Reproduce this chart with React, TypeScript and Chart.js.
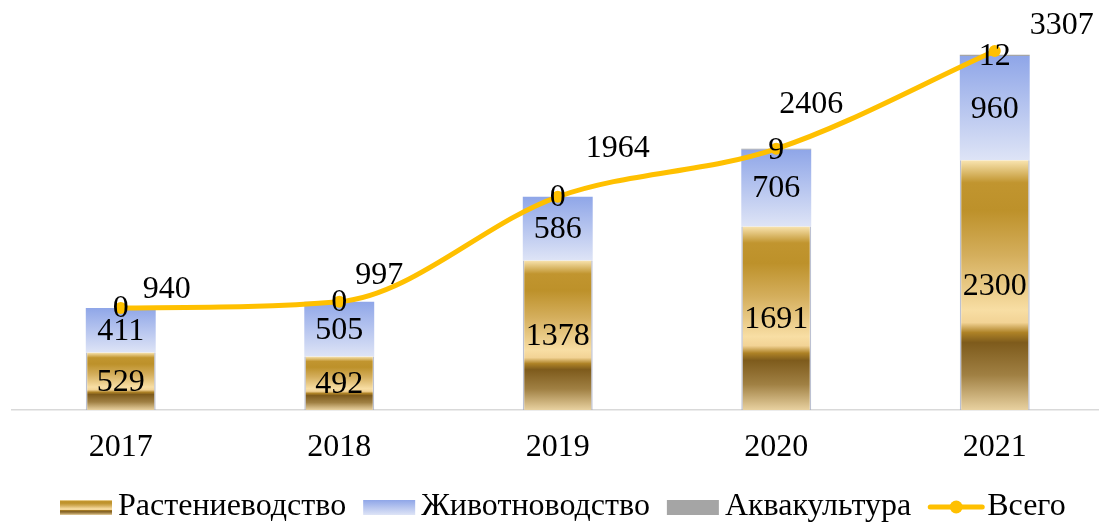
import React, { useEffect, useRef } from 'react';
import { Chart, registerables } from 'chart.js';

Chart.register(...registerables);

// ---- data ----
const categories = ['2017', '2018', '2019', '2020', '2021'];
const cropValues = [529, 492, 1378, 1691, 2300];
const livestockValues = [411, 505, 586, 706, 960];
const aquaValues = [0, 0, 0, 9, 12];
const totalValues = [940, 997, 1964, 2406, 3307];
const seriesNames = ['Растениеводство', 'Животноводство', 'Аквакультура', 'Всего'];

// ---- style ----
const FONT = '"Liberation Serif", "Times New Roman", serif';
const FONT_SIZE = 32;
const LINE_COLOR = '#FFC000';
const AQUA_COLOR = '#A5A5A5';
const lineLabelOffsets: [number, number][] = [
  [46, -18],
  [40, -26],
  [60, -48],
  [35, -44],
  [67, -25],
];

type Stop = [number, string];
const goldStops: Stop[] = [
  [0, '#F9E4B0'],
  [0.09, '#C1952F'],
  [0.2, '#BD912A'],
  [0.38, '#D4AE5C'],
  [0.6, '#F8DEA4'],
  [0.65, '#F2D395'],
  [0.69, '#AE8226'],
  [0.73, '#7E5B1C'],
  [0.86, '#A08043'],
  [1, '#E8D1A0'],
];
const blueStops: Stop[] = [
  [0, '#8FA6E8'],
  [1, '#DEE4F6'],
];

function makeGrad(c: CanvasRenderingContext2D, top: number, bottom: number, stops: Stop[]) {
  const g = c.createLinearGradient(0, top, 0, bottom);
  stops.forEach(([o, col]) => g.addColorStop(o, col));
  return g;
}

const stackArrays = [cropValues, livestockValues, aquaValues];

const stackedGradient = (dsIndex: number, stops: Stop[], fallback: string) => (ctx: any) => {
  const chart = ctx.chart;
  const ys = chart.scales && chart.scales.y;
  const i = ctx.dataIndex;
  if (!ys || i == null || !chart.chartArea) return fallback;
  let start = 0;
  for (let k = 0; k < dsIndex; k++) start += stackArrays[k][i];
  const end = start + stackArrays[dsIndex][i];
  const top = ys.getPixelForValue(end);
  const bottom = ys.getPixelForValue(start);
  if (!isFinite(top) || !isFinite(bottom) || top === bottom) return fallback;
  return makeGrad(chart.ctx, top, bottom, stops);
};

const labelPlugin = {
  id: 'valueLabels',
  afterDatasetsDraw(chart: any) {
    const c: CanvasRenderingContext2D = chart.ctx;
    c.save();
    c.font = `${FONT_SIZE}px ${FONT}`;
    c.fillStyle = '#000';
    c.textAlign = 'center';
    c.textBaseline = 'middle';
    for (let d = 0; d < 3; d++) {
      const meta = chart.getDatasetMeta(d);
      meta.data.forEach((el: any, i: number) => {
        const p = el.getProps(['x', 'y', 'base'], true);
        c.fillText(String(stackArrays[d][i]), p.x, (p.y + p.base) / 2 + 1);
      });
    }
    const lm = chart.getDatasetMeta(3);
    lm.data.forEach((el: any, i: number) => {
      const p = el.getProps(['x', 'y'], true);
      const [dx, dy] = lineLabelOffsets[i];
      c.fillText(String(totalValues[i]), p.x + dx, p.y + dy);
    });
    c.restore();
  },
};

const legendPlugin = {
  id: 'customLegend',
  afterDraw(chart: any) {
    const c: CanvasRenderingContext2D = chart.ctx;
    c.save();
    c.font = `${FONT_SIZE}px ${FONT}`;
    c.textBaseline = 'middle';
    c.textAlign = 'left';
    const yc = 507;
    let x = 60;
    seriesNames.forEach((name, idx) => {
      if (idx < 3) {
        const w = 52;
        const top = 500;
        const h = 15;
        if (idx === 0) c.fillStyle = makeGrad(c, top, top + h, goldStops);
        else if (idx === 1) c.fillStyle = makeGrad(c, top, top + h, blueStops);
        else c.fillStyle = AQUA_COLOR;
        c.fillRect(x, top, w, h);
        x += w + 6;
      } else {
        const w = 56;
        c.strokeStyle = LINE_COLOR;
        c.lineWidth = 5;
        c.lineCap = 'round';
        c.beginPath();
        c.moveTo(x + 2, yc);
        c.lineTo(x + w - 2, yc);
        c.stroke();
        c.fillStyle = LINE_COLOR;
        c.beginPath();
        c.arc(x + w / 2, yc, 6.5, 0, Math.PI * 2);
        c.fill();
        x += w + 3;
      }
      c.fillStyle = '#000';
      c.fillText(name, x, yc);
      x += c.measureText(name).width + 17;
    });
    c.restore();
  },
};

export default function App() {
  const ref = useRef<HTMLCanvasElement | null>(null);

  useEffect(() => {
    if (!ref.current) return;
    const chart = new Chart(ref.current, {
      type: 'bar',
      data: {
        labels: categories,
        datasets: [
          {
            type: 'bar',
            label: seriesNames[0],
            data: cropValues,
            backgroundColor: stackedGradient(0, goldStops, '#D4AE5C') as any,
            borderColor: 'rgba(165,172,195,0.75)',
            borderWidth: { left: 1.5, right: 1.5, top: 0, bottom: 0 } as any,
            borderSkipped: false,
            stack: 'bars',
            order: 1,
          },
          {
            type: 'bar',
            label: seriesNames[1],
            data: livestockValues,
            backgroundColor: stackedGradient(1, blueStops, '#B6C4EE') as any,
            borderWidth: 0,
            stack: 'bars',
            order: 1,
          },
          {
            type: 'bar',
            label: seriesNames[2],
            data: aquaValues,
            backgroundColor: AQUA_COLOR,
            borderWidth: 0,
            stack: 'bars',
            order: 1,
          },
          {
            type: 'line',
            label: seriesNames[3],
            data: totalValues,
            borderColor: LINE_COLOR,
            backgroundColor: LINE_COLOR,
            borderWidth: 5,
            pointRadius: 6,
            pointBackgroundColor: LINE_COLOR,
            pointBorderWidth: 0,
            cubicInterpolationMode: 'monotone',
            fill: false,
            stack: 'line',
            order: 0,
          } as any,
        ],
      },
      options: {
        responsive: false,
        animation: false,
        datasets: {
          bar: { categoryPercentage: 1, barPercentage: 0.32 },
        },
        layout: { padding: { top: 30, left: 11.5, right: 3.5, bottom: 0 } },
        plugins: {
          legend: { display: false },
          tooltip: { enabled: false },
        },
        scales: {
          x: {
            stacked: true,
            grid: { display: false, drawTicks: false },
            border: { display: true, color: '#D9D9D9', width: 1.5 },
            ticks: {
              color: '#000',
              font: { family: FONT, size: FONT_SIZE },
              padding: 18,
            },
            afterFit: (scale: any) => {
              scale.height = 114;
            },
          },
          y: {
            stacked: true,
            display: false,
            min: 0,
            max: 3500,
          },
        },
      },
      plugins: [labelPlugin, legendPlugin],
    });
    return () => chart.destroy();
  }, []);

  return (
    <div
      style={{
        position: 'absolute',
        left: 0,
        top: 0,
        width: 1099,
        height: 524,
        overflow: 'hidden',
        background: '#fff',
      }}
    >
      <canvas ref={ref} width={1110} height={524} style={{ display: 'block' }} />
    </div>
  );
}
